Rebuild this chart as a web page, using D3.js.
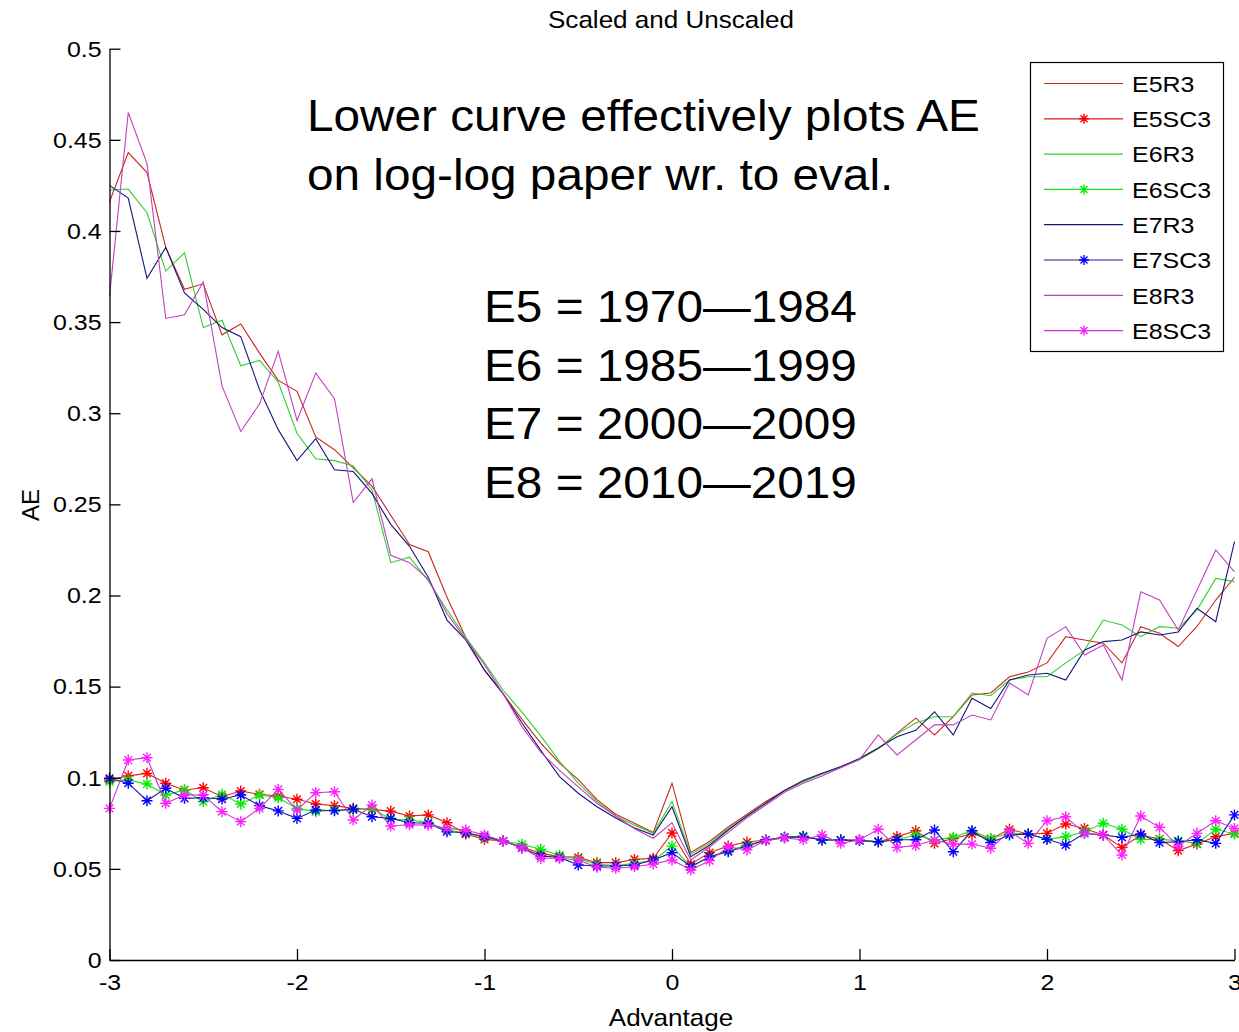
<!DOCTYPE html>
<html>
<head>
<meta charset="utf-8">
<script src="https://cdn.jsdelivr.net/npm/d3@7"></script>
<style>
  body { margin: 0; background: #fff; }
  svg { display: block; font-family: "Liberation Sans", Arial, sans-serif; }
</style>
</head>
<body>
<svg id="chart" width="1239" height="1032"></svg>
<script>
const width = 1239, height = 1032;
const margin = {top: 48.7, right: 4.5, bottom: 72, left: 109.5};
const stretch = 1.085; // the picture is a bit wider than tall, text too

// x positions (Advantage)
const advantage = [-3.0,-2.9,-2.8,-2.7,-2.6,-2.5,-2.4,-2.3,-2.2,-2.1,-2.0,-1.9,-1.8,-1.7,-1.6,-1.5,-1.4,-1.3,-1.2,-1.1,
  -1.0,-0.9,-0.8,-0.7,-0.6,-0.5,-0.4,-0.3,-0.2,-0.1,0.0,0.1,0.2,0.3,0.4,0.5,0.6,0.7,0.8,0.9,
  1.0,1.1,1.2,1.3,1.4,1.5,1.6,1.7,1.8,1.9,2.0,2.1,2.2,2.3,2.4,2.5,2.6,2.7,2.8,2.9,3.0];

// unscaled (R3) series
const e5r3 = [0.416,0.443,0.432,0.391,0.368,0.371,0.343,0.349,0.333,0.318,0.312,0.287,0.280,0.270,0.260,0.244,0.228,0.224,0.199,0.177,
  0.159,0.146,0.132,0.119,0.108,0.099,0.088,0.080,0.075,0.070,0.097,0.059,0.065,0.073,0.080,0.087,0.093,0.098,0.102,0.106,
  0.110,0.116,0.1245,0.1327,0.1235,0.1335,0.1454,0.1465,0.1554,0.158,0.163,0.1774,0.1756,0.1738,0.163,0.1829,0.1793,0.172,0.183,0.1975,0.210];
const e6r3 = [0.4225,0.423,0.410,0.378,0.388,0.347,0.351,0.326,0.329,0.317,0.289,0.275,0.274,0.271,0.258,0.218,0.221,0.208,0.192,0.177,
  0.163,0.148,0.136,0.123,0.109,0.097,0.087,0.079,0.074,0.0695,0.087,0.058,0.064,0.072,0.079,0.086,0.093,0.098,0.102,0.106,
  0.110,0.116,0.124,0.130,0.1335,0.1335,0.1465,0.145,0.1536,0.1554,0.1554,0.163,0.170,0.1865,0.1838,0.1774,0.1829,0.182,0.192,0.2094,0.2076];
const e7r3 = [0.425,0.418,0.374,0.391,0.366,0.357,0.347,0.342,0.313,0.291,0.274,0.286,0.269,0.268,0.256,0.239,0.227,0.210,0.1865,0.1756,
  0.159,0.146,0.130,0.115,0.1006,0.0915,0.0841,0.0779,0.0724,0.0686,0.0841,0.0567,0.063,0.0713,0.079,0.086,0.093,0.0985,0.1025,0.106,
  0.1105,0.1163,0.1225,0.126,0.1362,0.1235,0.1436,0.138,0.1536,0.1564,0.1573,0.1536,0.170,0.1747,0.1756,0.180,0.1783,0.180,0.193,0.1856,0.2295];
const e8r3 = [0.364,0.465,0.437,0.352,0.354,0.372,0.315,0.290,0.305,0.334,0.296,0.322,0.308,0.251,0.264,0.222,0.218,0.209,0.190,0.176,
  0.162,0.146,0.128,0.114,0.104,0.095,0.086,0.079,0.072,0.0668,0.0753,0.0549,0.062,0.070,0.078,0.085,0.092,0.097,0.101,0.1055,
  0.110,0.1235,0.1125,0.1207,0.129,0.129,0.1344,0.1317,0.152,0.1454,0.1765,0.1829,0.1673,0.1728,0.1536,0.202,0.1975,0.181,0.203,0.225,0.213];

// scaled (SC3) series
const e5sc3 = [0.0988,0.101,0.1024,0.097,0.0933,0.0945,0.0896,0.0927,0.0909,0.090,0.0882,0.0856,0.0847,0.0832,0.0825,0.0817,0.079,0.0796,0.0753,0.0691,
  0.0662,0.0653,0.062,0.0585,0.0567,0.0563,0.0534,0.0534,0.0552,0.0558,0.0697,0.0525,0.0589,0.0625,0.0647,0.0658,0.0673,0.0677,0.066,0.0658,
  0.0658,0.0649,0.0677,0.0709,0.064,0.0667,0.0691,0.0664,0.0717,0.0691,0.0695,0.0746,0.0722,0.0686,0.0618,0.0686,0.0664,0.060,0.0636,0.0677,0.0695];
const e6sc3 = [0.0978,0.0988,0.0966,0.0905,0.0933,0.0869,0.0909,0.0856,0.0905,0.089,0.0832,0.0814,0.0823,0.0823,0.0832,0.0772,0.0768,0.0755,0.0712,0.0698,
  0.0672,0.0653,0.0635,0.0607,0.0575,0.0555,0.0525,0.0518,0.053,0.0545,0.0625,0.051,0.0567,0.060,0.063,0.0658,0.0673,0.068,0.066,0.0658,
  0.0655,0.0649,0.066,0.0686,0.0658,0.0673,0.0709,0.0667,0.0695,0.0691,0.0662,0.0677,0.0704,0.075,0.0717,0.0662,0.0662,0.0655,0.064,0.0717,0.0691];
const e7sc3 = [0.0997,0.097,0.0874,0.0942,0.0887,0.089,0.0883,0.0905,0.0847,0.0818,0.0777,0.0823,0.0819,0.0828,0.0786,0.0777,0.0753,0.075,0.0704,0.0698,
  0.0677,0.0653,0.0615,0.0571,0.0563,0.0521,0.0516,0.0516,0.0521,0.0549,0.0589,0.0512,0.0567,0.0594,0.0625,0.0658,0.0673,0.0677,0.0658,0.0658,
  0.0655,0.0649,0.066,0.066,0.0713,0.0594,0.0709,0.0644,0.0686,0.0691,0.0662,0.0631,0.0695,0.0686,0.0673,0.0691,0.0644,0.0649,0.066,0.064,0.0796];
const e8sc3 = [0.0832,0.1097,0.111,0.086,0.0905,0.0905,0.0814,0.0759,0.0832,0.0936,0.0823,0.0918,0.0923,0.0768,0.085,0.0735,0.0742,0.074,0.0722,0.0713,
  0.0686,0.0653,0.0615,0.0558,0.0558,0.0549,0.0509,0.0503,0.0512,0.0527,0.0549,0.0494,0.0545,0.062,0.0604,0.0655,0.067,0.066,0.0686,0.064,
  0.066,0.0717,0.0618,0.0628,0.0658,0.0636,0.0636,0.0613,0.0705,0.064,0.0764,0.0786,0.0695,0.0686,0.0576,0.079,0.0728,0.0625,0.0695,0.0764,0.0722];

const xTicks = [-3, -2, -1, 0, 1, 2, 3];
const xTickLabels = ["-3", "-2", "-1", "0", "1", "2", "3"];
const yTicks = [0, 0.05, 0.1, 0.15, 0.2, 0.25, 0.3, 0.35, 0.4, 0.45, 0.5];
const yTickLabels = ["0", "0.05", "0.1", "0.15", "0.2", "0.25", "0.3", "0.35", "0.4", "0.45", "0.5"];

const seriesNames = ["E5R3", "E5SC3", "E6R3", "E6SC3", "E7R3", "E7SC3", "E8R3", "E8SC3"];
const seriesValues = [e5r3, e5sc3, e6r3, e6sc3, e7r3, e7sc3, e8r3, e8sc3];

const noteLines = ["Lower curve effectively plots AE", "on log-log paper wr. to eval."];
const eraLines = ["E5 = 1970\u20141984", "E6 = 1985\u20141999", "E7 = 2000\u20142009", "E8 = 2010\u20142019"];

// styling per series (line colour, marker colour)
const lineColors = ["#c8281e", "#e0201a", "#30d030", "#20e020", "#15157a", "#1a1aa0", "#c040c0", "#d030d0"];
const markerColors = [null, "#ff0000", null, "#00ee00", null, "#0000ff", null, "#ff20ff"];

let svg = d3.select("#chart");

let x = d3.scaleLinear().domain([-3, 3]).range([margin.left, width - margin.right]);
let y = d3.scaleLinear().domain([0, 0.5]).range([height - margin.bottom, margin.top]);

// asterisk marker like matlab '*'
function starPath(r) {
  let d = r * 0.7;
  return `M${-r},0L${r},0M0,${-r}L0,${r}M${-d},${-d}L${d},${d}M${-d},${d}L${d},${-d}`;
}

let line = d3.line()
  .x((d, i) => x(advantage[i]))
  .y(d => y(d));

// lines
seriesValues.forEach(function(vals, s) {
  svg.append("path")
    .datum(vals)
    .attr("fill", "none")
    .attr("stroke", lineColors[s])
    .attr("stroke-width", 1.1)
    .attr("d", line);

  if (markerColors[s]) {
    svg.append("g").selectAll("path")
      .data(vals)
      .join("path")
      .attr("transform", (d, i) => `translate(${x(advantage[i])},${y(d)})`)
      .attr("d", starPath(5.5))
      .attr("stroke", markerColors[s])
      .attr("stroke-width", 1.4)
      .attr("fill", "none");
  }
});

// axes, matlab style ticks inside
let xAxis = d3.axisBottom(x).tickValues(xTicks).tickFormat((d, i) => xTickLabels[i])
  .tickSizeInner(-11).tickSizeOuter(0).tickPadding(14);
let yAxis = d3.axisLeft(y).tickValues(yTicks).tickFormat((d, i) => yTickLabels[i])
  .tickSizeInner(-11).tickSizeOuter(0).tickPadding(8);

let gx = svg.append("g")
  .attr("transform", `translate(0,${height - margin.bottom})`)
  .call(xAxis);
let gy = svg.append("g")
  .attr("transform", `translate(${margin.left},0)`)
  .call(yAxis);

[gx, gy].forEach(function(g) {
  g.select(".domain").attr("stroke", "#000").attr("stroke-width", 1.3);
  g.selectAll(".tick line").attr("stroke", "#000").attr("stroke-width", 1.3);
  g.selectAll(".tick text").attr("fill", "#000").style("font-size", "23px")
    .style("font-family", "'Liberation Sans', Arial, sans-serif");
});
gx.selectAll(".tick text").attr("transform", `scale(${stretch},1)`);
gy.selectAll(".tick text").attr("transform", `translate(-9,0) scale(${stretch},1) translate(9,0)`);

// title and axis labels
svg.append("text")
  .attr("transform", `translate(671,28) scale(${stretch},1)`)
  .attr("text-anchor", "middle")
  .style("font-size", "24px")
  .text("Scaled and Unscaled");

svg.append("text")
  .attr("transform", `translate(671,1026) scale(${stretch},1)`)
  .attr("text-anchor", "middle")
  .style("font-size", "24px")
  .text("Advantage");

svg.append("text")
  .attr("transform", "translate(39,505) rotate(-90)")
  .attr("text-anchor", "middle")
  .style("font-size", "24px")
  .text("AE");

// annotations
svg.append("g").selectAll("text")
  .data(noteLines)
  .join("text")
  .attr("transform", (d, i) => `translate(307,${131 + i * 59}) scale(${stretch},1)`)
  .style("font-size", "44px")
  .text(d => d);

svg.append("g").selectAll("text")
  .data(eraLines)
  .join("text")
  .attr("transform", (d, i) => `translate(484,${322 + i * 58.5}) scale(${stretch},1)`)
  .style("font-size", "44px")
  .text(d => d);

// legend
let legend = svg.append("g");
legend.append("rect")
  .attr("x", 1030.5).attr("y", 62.5)
  .attr("width", 193).attr("height", 289)
  .attr("fill", "#fff")
  .attr("stroke", "#000")
  .attr("stroke-width", 1.2);

let items = legend.selectAll(".item")
  .data(seriesNames)
  .join("g")
  .attr("class", "item")
  .attr("transform", (d, i) => `translate(0,${83.5 + i * 35.3})`);

items.append("line")
  .attr("x1", 1044).attr("x2", 1123)
  .attr("stroke", (d, i) => lineColors[i])
  .attr("stroke-width", 1.2);

items.filter((d, i) => markerColors[i])
  .append("path")
  .attr("transform", "translate(1084,0)")
  .attr("d", starPath(5))
  .attr("stroke", (d) => markerColors[seriesNames.indexOf(d)])
  .attr("stroke-width", 1.4)
  .attr("fill", "none");

items.append("text")
  .attr("transform", `translate(1132,0) scale(${stretch},1)`)
  .attr("dy", "0.36em")
  .style("font-size", "23px")
  .text(d => d);
</script>
</body>
</html>
